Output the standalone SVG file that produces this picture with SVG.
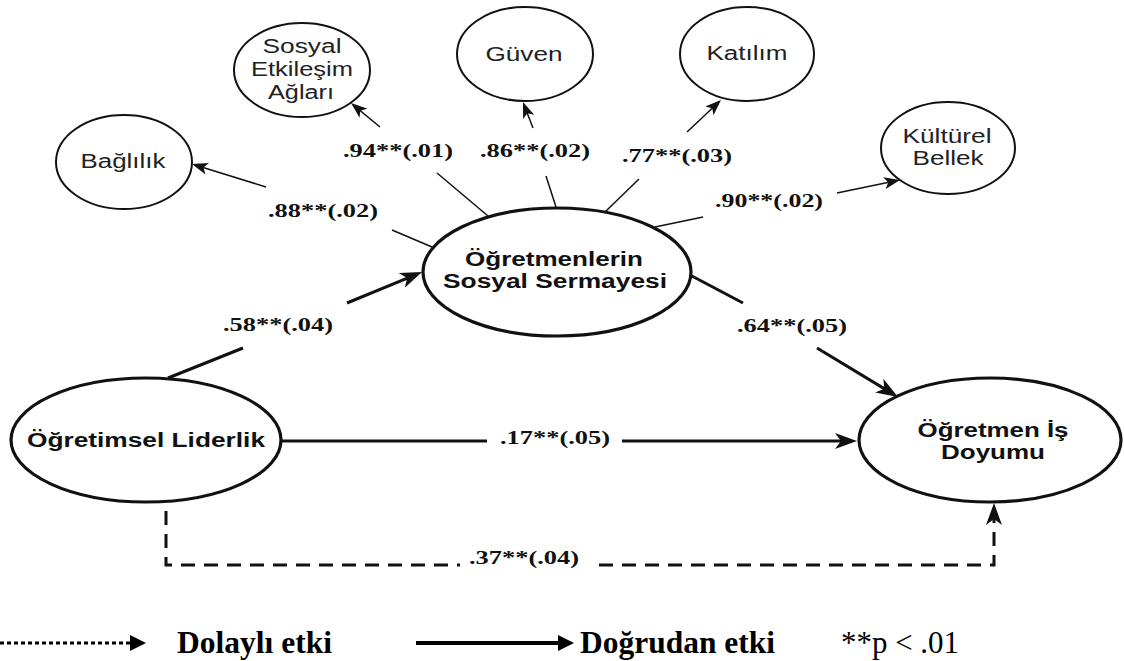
<svg xmlns="http://www.w3.org/2000/svg" width="1124" height="661" viewBox="0 0 1124 661">
<style>
.bg{fill:#fff}
.sm{fill:#fff;stroke:#111;stroke-width:2}
.bg3{fill:#fff;stroke:#111;stroke-width:3.2}
.nt{font-family:"Liberation Sans",Arial,sans-serif;font-size:20px;fill:#222;text-anchor:middle}
.bt{font-family:"Liberation Sans",Arial,sans-serif;font-size:20px;font-weight:bold;fill:#111;text-anchor:middle}
.lb{font-family:"Liberation Serif","Times New Roman",serif;font-size:19px;font-weight:bold;fill:#111;text-anchor:middle}
.lg{font-family:"Liberation Serif","Times New Roman",serif;font-size:32px;fill:#000}
.thin{stroke:#111;stroke-width:1.5;fill:none}
.thick{stroke:#111;stroke-width:3;fill:none}
.dash{stroke:#111;stroke-width:3;fill:none;stroke-dasharray:14 9}
</style>
<defs>
<marker id="ah" viewBox="0 0 16 12" markerWidth="16" markerHeight="12" refX="12" refY="6" orient="auto" markerUnits="userSpaceOnUse">
<path d="M0,0 L16,6 L0,12 L4,6 z" fill="#111"/>
</marker>
<marker id="ahT" viewBox="0 0 22 16" markerWidth="22" markerHeight="16" refX="16" refY="8" orient="auto" markerUnits="userSpaceOnUse">
<path d="M0,0 L22,8 L0,16 L6,8 z" fill="#111"/>
</marker>
<marker id="ahL" viewBox="0 0 16 16" markerWidth="16" markerHeight="16" refX="2" refY="8" orient="auto" markerUnits="userSpaceOnUse">
<path d="M0,0 L16,8 L0,16 z" fill="#000"/>
</marker>
</defs>
<rect class="bg" x="0" y="0" width="1124" height="661"/>

<g id="connectors">
<line class="thin" x1="432" y1="247" x2="392" y2="230"/>
<line class="thin" x1="266" y1="187" x2="195.8" y2="165.2" marker-end="url(#ah)"/>
<line class="thin" x1="488" y1="216" x2="437" y2="173"/>
<line class="thin" x1="380" y1="127" x2="354.1" y2="105.6" marker-end="url(#ah)"/>
<line class="thin" x1="556" y1="207" x2="546" y2="176"/>
<line class="thin" x1="533" y1="128" x2="524.4" y2="105.7" marker-end="url(#ah)"/>
<line class="thin" x1="605" y1="212" x2="639" y2="179"/>
<line class="thin" x1="687" y1="132" x2="718.1" y2="102.7" marker-end="url(#ah)"/>
<line class="thin" x1="655" y1="227" x2="703" y2="217"/>
<line class="thin" x1="837" y1="193" x2="896.1" y2="180.8" marker-end="url(#ah)"/>
<line class="thick" x1="168" y1="378" x2="243" y2="348"/>
<line class="thick" x1="347" y1="303" x2="416.5" y2="274.3" marker-end="url(#ahT)"/>
<line class="thick" x1="690" y1="275" x2="743" y2="303"/>
<line class="thick" x1="817" y1="348" x2="892.9" y2="393.9" marker-end="url(#ahT)"/>
<line class="thick" x1="281" y1="441" x2="487" y2="441"/>
<line class="thick" x1="622" y1="441" x2="851" y2="441" marker-end="url(#ahT)"/>
<path class="dash" d="M166,511 L166,565 L460,565"/>
<path class="dash" d="M599,565 L994,565 L994,509" marker-end="url(#ahT)"/>
<text class="lb" x="323" y="217" textLength="110" lengthAdjust="spacingAndGlyphs">.88**(.02)</text>
<text class="lb" x="398" y="157" textLength="110" lengthAdjust="spacingAndGlyphs">.94**(.01)</text>
<text class="lb" x="535" y="157" textLength="110" lengthAdjust="spacingAndGlyphs">.86**(.02)</text>
<text class="lb" x="677" y="162" textLength="110" lengthAdjust="spacingAndGlyphs">.77**(.03)</text>
<text class="lb" x="769" y="207" textLength="108" lengthAdjust="spacingAndGlyphs">.90**(.02)</text>
<text class="lb" x="278" y="331" textLength="110" lengthAdjust="spacingAndGlyphs">.58**(.04)</text>
<text class="lb" x="792" y="332" textLength="110" lengthAdjust="spacingAndGlyphs">.64**(.05)</text>
<text class="lb" x="555" y="444" textLength="110" lengthAdjust="spacingAndGlyphs">.17**(.05)</text>
<text class="lb" x="524" y="564" textLength="110" lengthAdjust="spacingAndGlyphs">.37**(.04)</text>
</g>

<g id="node-sosyal-etkilesim">
<ellipse class="sm" cx="302" cy="70" rx="68" ry="47"/>
<text class="nt" x="302" y="53" textLength="79" lengthAdjust="spacingAndGlyphs">Sosyal</text>
<text class="nt" x="302" y="76" textLength="102" lengthAdjust="spacingAndGlyphs">Etkileşim</text>
<text class="nt" x="301" y="99" textLength="66" lengthAdjust="spacingAndGlyphs">Ağları</text>
</g>
<g id="node-baglilik">
<ellipse class="sm" cx="124" cy="162" rx="68" ry="47"/>
<text class="nt" x="123" y="168" textLength="85" lengthAdjust="spacingAndGlyphs">Bağlılık</text>
</g>
<g id="node-guven">
<ellipse class="sm" cx="525" cy="54" rx="68" ry="47"/>
<text class="nt" x="524" y="61" textLength="77" lengthAdjust="spacingAndGlyphs">Güven</text>
</g>
<g id="node-katilim">
<ellipse class="sm" cx="747" cy="54" rx="67" ry="47"/>
<text class="nt" x="747" y="60" textLength="81" lengthAdjust="spacingAndGlyphs">Katılım</text>
</g>
<g id="node-kulturel-bellek">
<ellipse class="sm" cx="948" cy="148" rx="67" ry="46"/>
<text class="nt" x="947" y="143" textLength="89" lengthAdjust="spacingAndGlyphs">Kültürel</text>
<text class="nt" x="948" y="165" textLength="71" lengthAdjust="spacingAndGlyphs">Bellek</text>
</g>
<g id="node-sosyal-sermaye">
<ellipse class="bg3" cx="557" cy="272" rx="134" ry="64"/>
<text class="bt" x="554" y="266" textLength="178" lengthAdjust="spacingAndGlyphs">Öğretmenlerin</text>
<text class="bt" x="555" y="288" textLength="224" lengthAdjust="spacingAndGlyphs">Sosyal Sermayesi</text>
</g>
<g id="node-ogretimsel-liderlik">
<ellipse class="bg3" cx="146" cy="440" rx="135" ry="62"/>
<text class="bt" x="146" y="447" textLength="238" lengthAdjust="spacingAndGlyphs">Öğretimsel Liderlik</text>
</g>
<g id="node-is-doyumu">
<ellipse class="bg3" cx="990" cy="440" rx="131" ry="62"/>
<text class="bt" x="993" y="437" textLength="151" lengthAdjust="spacingAndGlyphs">Öğretmen İş</text>
<text class="bt" x="993" y="459" textLength="104" lengthAdjust="spacingAndGlyphs">Doyumu</text>
</g>

<g id="legend">
<line x1="0" y1="643" x2="132" y2="643" stroke="#000" stroke-width="3" stroke-dasharray="4 3" marker-end="url(#ahL)"/>
<text class="lg" x="177" y="653" font-weight="bold" textLength="155" lengthAdjust="spacingAndGlyphs">Dolaylı etki</text>
<line x1="416" y1="643" x2="560" y2="643" stroke="#000" stroke-width="4" marker-end="url(#ahL)"/>
<text class="lg" x="580" y="653" font-weight="bold" textLength="195" lengthAdjust="spacingAndGlyphs">Doğrudan etki</text>
<text class="lg" x="841" y="653" textLength="118" lengthAdjust="spacingAndGlyphs">**p &lt; .01</text>
</g>
</svg>
